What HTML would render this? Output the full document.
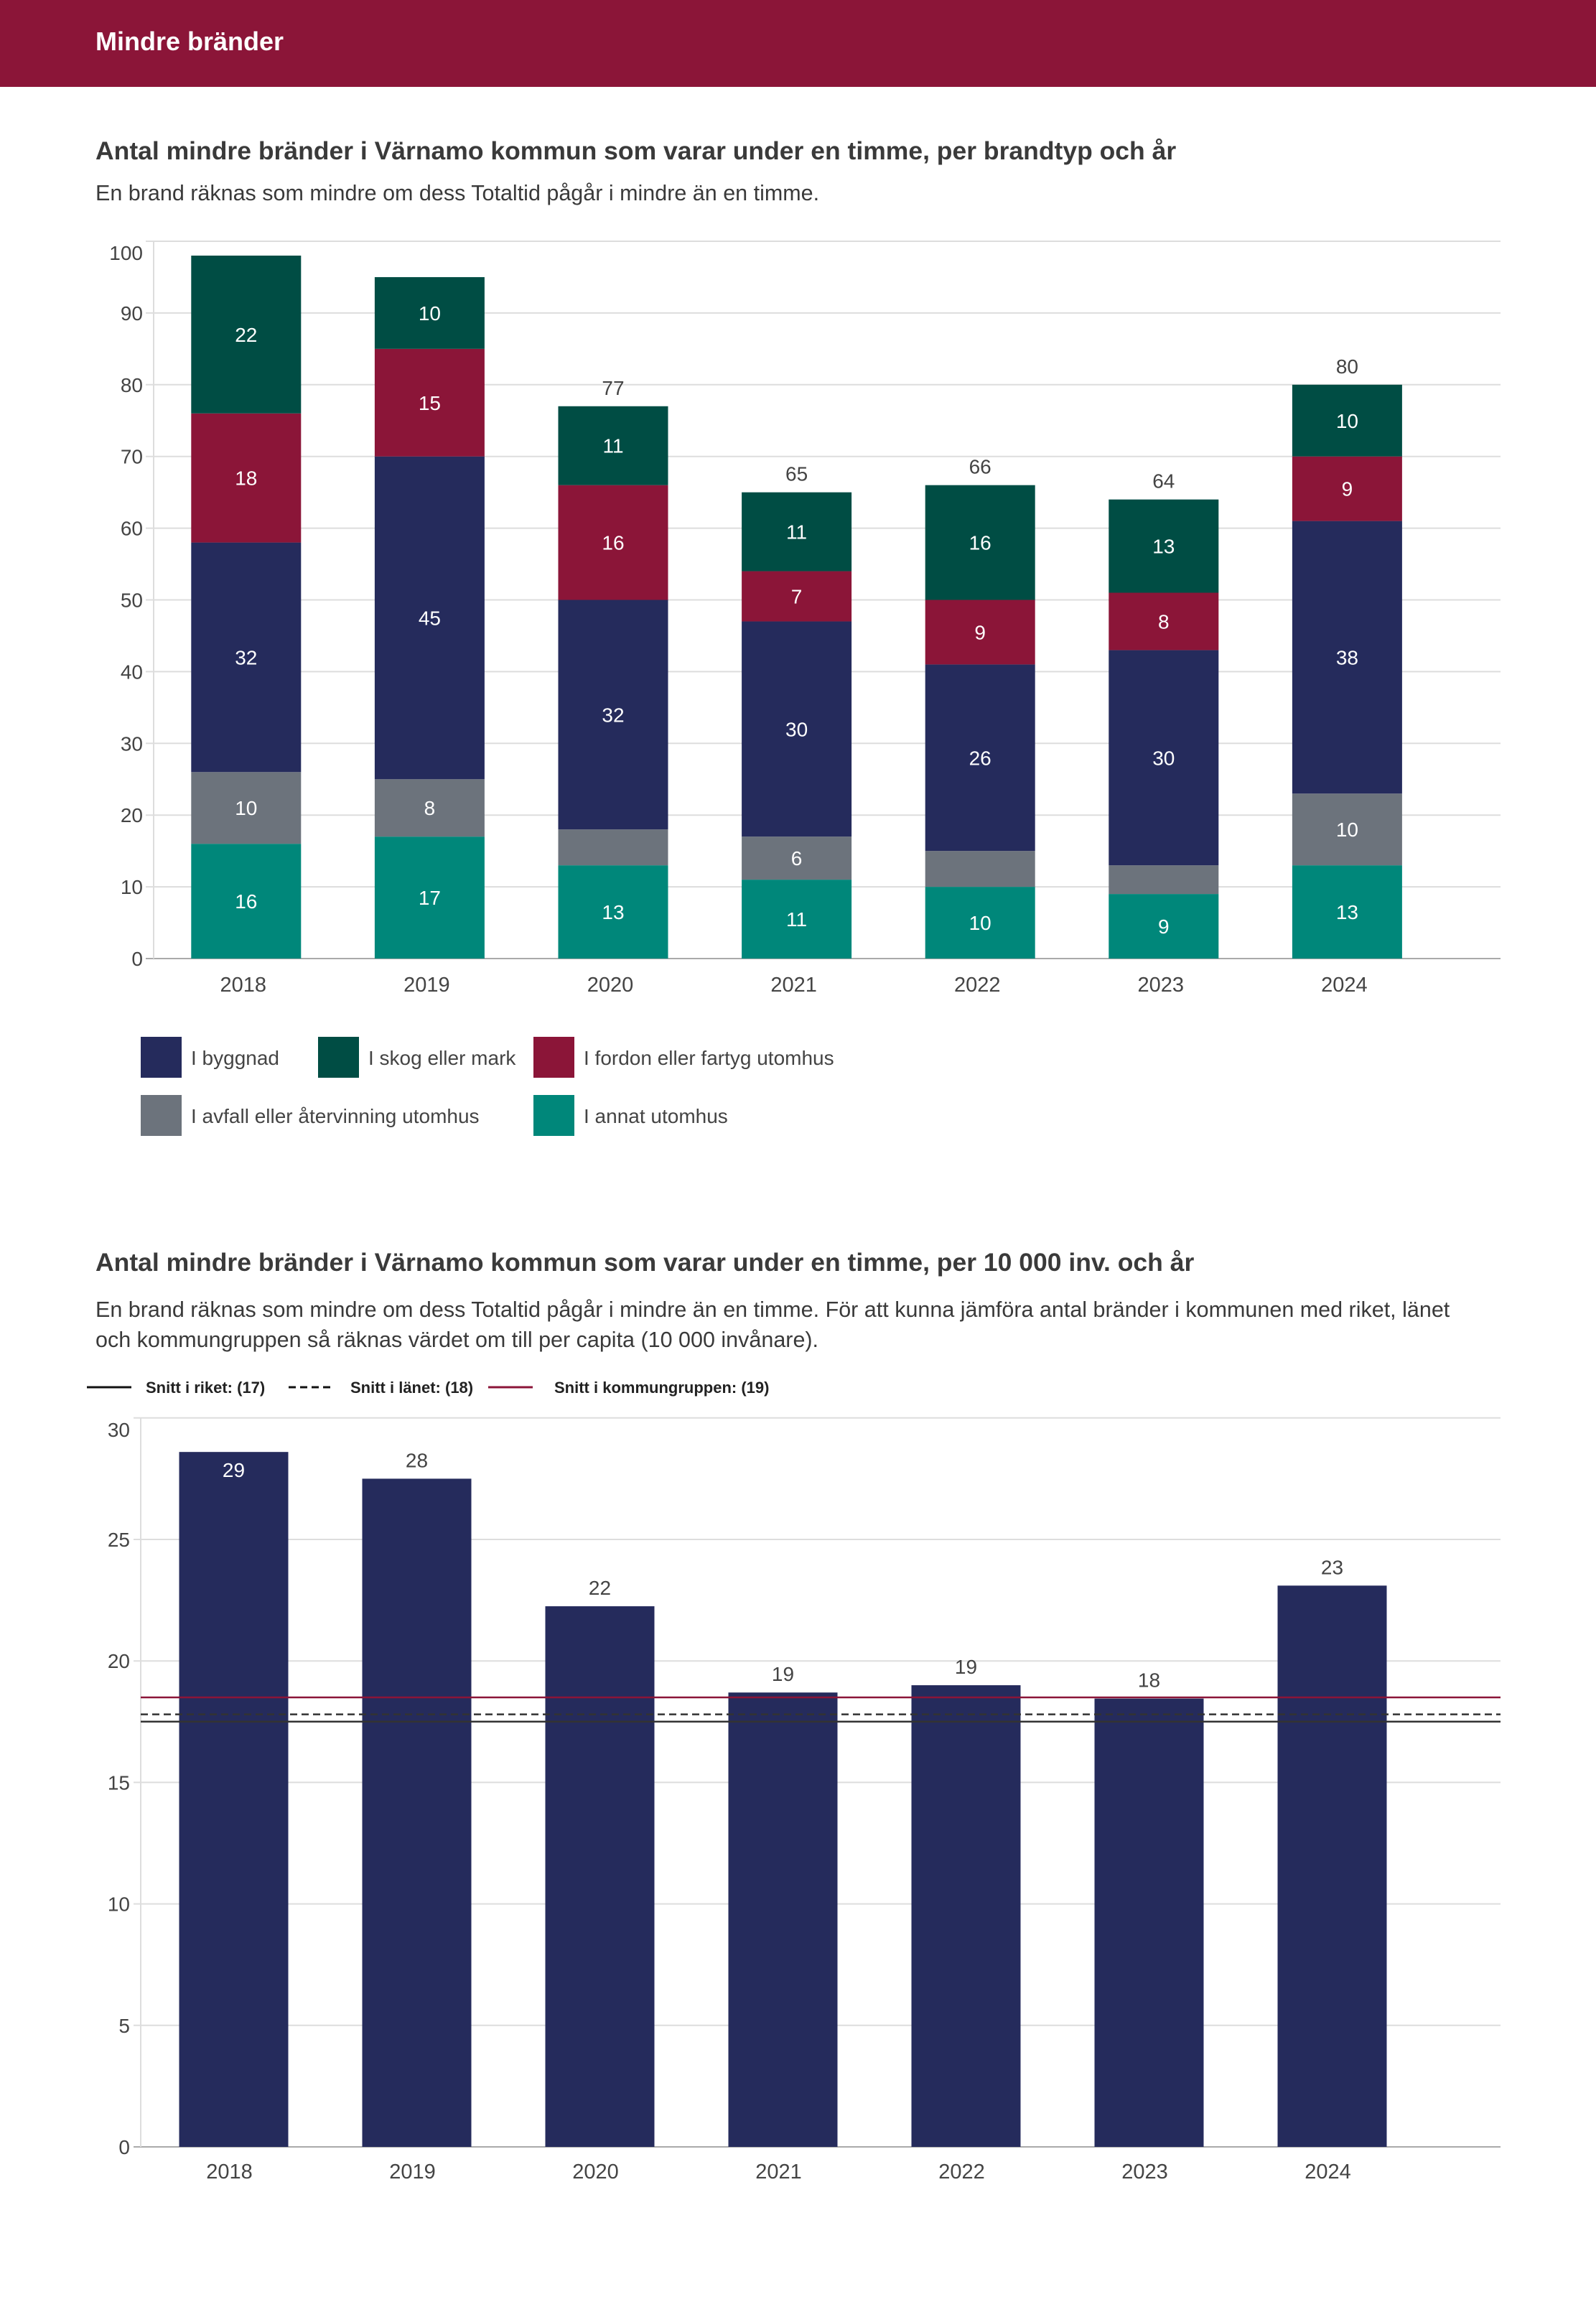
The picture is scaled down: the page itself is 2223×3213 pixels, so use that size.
<!DOCTYPE html>
<html><head><meta charset="utf-8"><style>
html,body{margin:0;padding:0;background:#fff;}
svg{display:block;font-family:"Liberation Sans",sans-serif;}
</style></head><body>
<svg id="page" width="2223" height="3213" viewBox="0 0 2223 3213" xmlns="http://www.w3.org/2000/svg">
<rect x="0" y="0" width="2223" height="121" fill="#8b1538"/>
<text x="133" y="70" fill="#fff" font-size="36" font-weight="bold">Mindre bränder</text>
<text x="133" y="222" fill="#3a3a3a" font-size="35.5" font-weight="bold">Antal mindre bränder i Värnamo kommun som varar under en timme, per brandtyp och år</text>
<text x="133" y="279" fill="#3a3a3a" font-size="30.5">En brand räknas som mindre om dess Totaltid pågår i mindre än en timme.</text>
<g id="c1"></g>
<g id="leg1"></g>
<text x="133" y="1770" fill="#3a3a3a" font-size="35.5" font-weight="bold">Antal mindre bränder i Värnamo kommun som varar under en timme, per 10 000 inv. och år</text>
<text x="133" y="1834" fill="#3a3a3a" font-size="30.5">En brand räknas som mindre om dess Totaltid pågår i mindre än en timme. För att kunna jämföra antal bränder i kommunen med riket, länet</text>
<text x="133" y="1876" fill="#3a3a3a" font-size="30.5">och kommungruppen så räknas värdet om till per capita (10 000 invånare).</text>
<g id="leg2"></g>
<g id="c2"></g>
</svg>
<script>
const years=["2018","2019","2020","2021","2022","2023","2024"];
const annat=[16,17,13,11,10,9,13];
const avfall=[10,8,5,6,5,4,10];
const byggnad=[32,45,32,30,26,30,38];
const fordon=[18,15,16,7,9,8,9];
const skog=[22,10,11,11,16,13,10];
const showTotal=[false,false,true,true,true,true,true];
const ticks1=[0,10,20,30,40,50,60,70,80,90,100];
const perCapita=[28.6,27.5,22.25,18.7,19.0,18.45,23.1];
const perCapitaLabels=["29","28","22","19","19","18","23"];
const riket=17.5, lanet=17.8, kommungrupp=18.5;
const ticks2=[0,5,10,15,20,25,30];

const NS="http://www.w3.org/2000/svg";
function mk(parent,tag,attrs,text){const e=document.createElementNS(NS,tag);for(const k in attrs)e.setAttribute(k,attrs[k]);if(text!==undefined)e.textContent=text;parent.appendChild(e);return e;}

// Chart 1
const c1=document.getElementById('c1');
const y1=v=>1335-v*9.99;
const bw1=255.6, x01=215;
const xc1=i=>x01+bw1*(i+0.5);
ticks1.forEach((t,k)=>{
  const g=mk(c1,'line',{x1:203,x2:2090,y1:y1(t),y2:y1(t),stroke:t===0?'#aaa':'#ddd','stroke-width':2});
  
  
  const off=k===ticks1.length-1?26:10;
  const l=mk(c1,'text',{x:199,y:y1(t)+off,'text-anchor':'end','font-size':28,fill:'#444'},t);
  
  
});
const ax=mk(c1,'line',{x1:214,x2:214,y1:y1(100),y2:y1(0),stroke:'#ddd','stroke-width':2});


const series=[[annat,'#00877a','annat'],[avfall,'#6c737c','avfall'],[byggnad,'#252b5c','byggnad'],[fordon,'#8b1538','fordon'],[skog,'#004d44','skog']];
years.forEach((yr,i)=>{
  let base=0;
  series.forEach(([arr,col,nm])=>{
    const v=arr[i];
    const r=mk(c1,'rect',{x:xc1(i)-76.5,width:153,y:y1(base+v),height:y1(base)-y1(base+v),fill:col});
    
    
    if(v>=6){
      const t=mk(c1,'text',{x:xc1(i),y:(y1(base)+y1(base+v))/2+10,'text-anchor':'middle','font-size':28,fill:'#fff'},v);
      
      
    }
    base+=v;
  });
  if(showTotal[i]){
    const t=mk(c1,'text',{x:xc1(i),y:y1(base)-16,'text-anchor':'middle','font-size':28,fill:'#444'},base);
    
    
  }
  const xl=mk(c1,'text',{x:xc1(i)-4,y:1381,'text-anchor':'middle','font-size':29,fill:'#444'},yr);
  
  
});
// Legend 1
const leg1=document.getElementById('leg1');
const items=[['I byggnad','#252b5c',196,1444],['I skog eller mark','#004d44',443,1444],['I fordon eller fartyg utomhus','#8b1538',743,1444],['I avfall eller återvinning utomhus','#6c737c',196,1525],['I annat utomhus','#00877a',743,1525]];
items.forEach(([lab,col,x,y])=>{
  const r=mk(leg1,'rect',{x:x,y:y,width:57,height:57,fill:col});
  
  
  const t=mk(leg1,'text',{x:x+70,y:y+39,'font-size':28,fill:'#444'},lab);
  
  
});

// Legend 2
const leg2=document.getElementById('leg2');
[[121,203,'Snitt i riket: (17)','#111',''],[402,488,'Snitt i länet: (18)','#111','10,6'],[680,772,'Snitt i kommungruppen: (19)','#8b1538','']].forEach(([lx,tx,lab,col,dash])=>{
  const l=mk(leg2,'line',{x1:lx,x2:lx+62,y1:1932,y2:1932,stroke:col,'stroke-width':3,'stroke-dasharray':dash});
  
  
  const t=mk(leg2,'text',{x:tx,y:1940,'font-size':22,'font-weight':'bold',fill:'#222'},lab);
  
  
});

// Chart 2
const c2=document.getElementById('c2');
const y2=v=>2990-v*33.84;
const bw2=255, x02=198;
const xc2=i=>x02+bw2*(i+0.5);
ticks2.forEach((t,k)=>{
  const g=mk(c2,'line',{x1:186,x2:2090,y1:y2(t),y2:y2(t),stroke:t===0?'#aaa':'#ddd','stroke-width':2});
  
  
  const off=k===ticks2.length-1?26:10;
  const l=mk(c2,'text',{x:181,y:y2(t)+off,'text-anchor':'end','font-size':28,fill:'#444'},t);
  
  
});
const ax2=mk(c2,'line',{x1:196,x2:196,y1:y2(30),y2:y2(0),stroke:'#ddd','stroke-width':2});


years.forEach((yr,i)=>{
  const v=perCapita[i];
  const r=mk(c2,'rect',{x:xc2(i)-76,width:152,y:y2(v),height:y2(0)-y2(v),fill:'#252b5c'});
  
  
  const inside=v>28;
  const t=mk(c2,'text',{x:xc2(i),y:inside?y2(v)+35:y2(v)-16,'text-anchor':'middle','font-size':28,fill:inside?'#fff':'#444'},perCapitaLabels[i]);
  
  
  const xl=mk(c2,'text',{x:xc2(i)-6,y:3034,'text-anchor':'middle','font-size':29,fill:'#444'},yr);
  
  
});
[[riket,'#333','','riket-line'],[lanet,'#333','10,6','lanet-line'],[kommungrupp,'#8b1538','','kommungrupp-line']].forEach(([v,col,dash,nm])=>{
  const l=mk(c2,'line',{x1:196,x2:2090,y1:y2(v),y2:y2(v),stroke:col,'stroke-width':2.5,'stroke-dasharray':dash});
  
  
});
</script>
</body></html>
